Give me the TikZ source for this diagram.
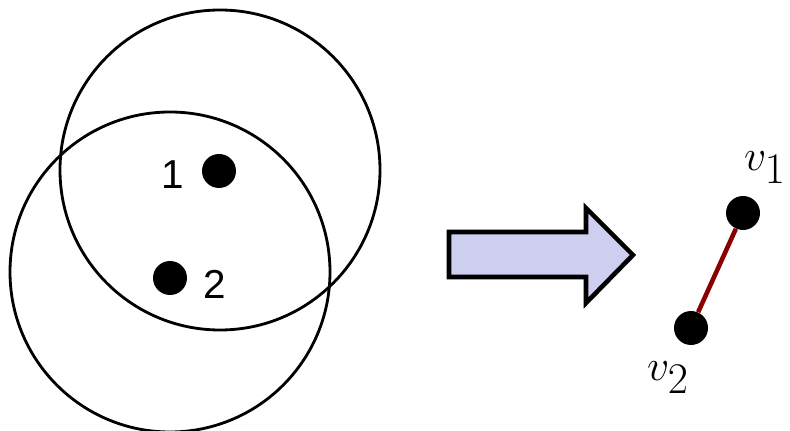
\documentclass[tikz,border=0pt]{standalone}
\usepackage{fontspec}
\setsansfont{Liberation Sans}
\usetikzlibrary{positioning}

\definecolor{arrowfill}{RGB}{206,206,238}
\definecolor{edgered}{RGB}{136,0,0}

\begin{document}
\begin{tikzpicture}[
  x=0.02cm, y=-0.02cm,
  disk/.style={draw=black, line width=1.6pt},
  dot/.style={circle, fill=black, inner sep=0pt, minimum size=0.68cm},
  numlabel/.style={font=\sffamily\fontsize{23}{27}\selectfont},
  vlabel/.style={font=\fontsize{37}{42}\selectfont},
  bigarrow/.style={draw=black, line width=2.6pt, fill=arrowfill, line join=miter},
  edge/.style={draw=edgered, line width=2.6pt}
]
\useasboundingbox (0,0) rectangle (790,431);

% sensing discs
\draw[disk] (220,170) circle (160);
\draw[disk] (170,272) circle (160);

\node[dot] (p1) at (219,171) {};
\node[dot] (p2) at (170,278) {};
\node[numlabel] (l1) at (173,175) {1};
\node[numlabel] (l2) at (215,284) {2};

% transformation arrow
\draw[bigarrow] (449,232) -- (586,232) -- (586,208) -- (633,255)
  -- (586,303) -- (586,277) -- (449,277) -- cycle;

% resulting graph
\node[dot] (v1) at (743,213) {};
\node[dot] (v2) at (691,328) {};
\draw[edge] (v1) -- (v2);
\node[vlabel] (lv1) at (765,168) {$v_1$};
\node[vlabel] (lv2) at (668,378) {$v_2$};
\end{tikzpicture}
\end{document}
